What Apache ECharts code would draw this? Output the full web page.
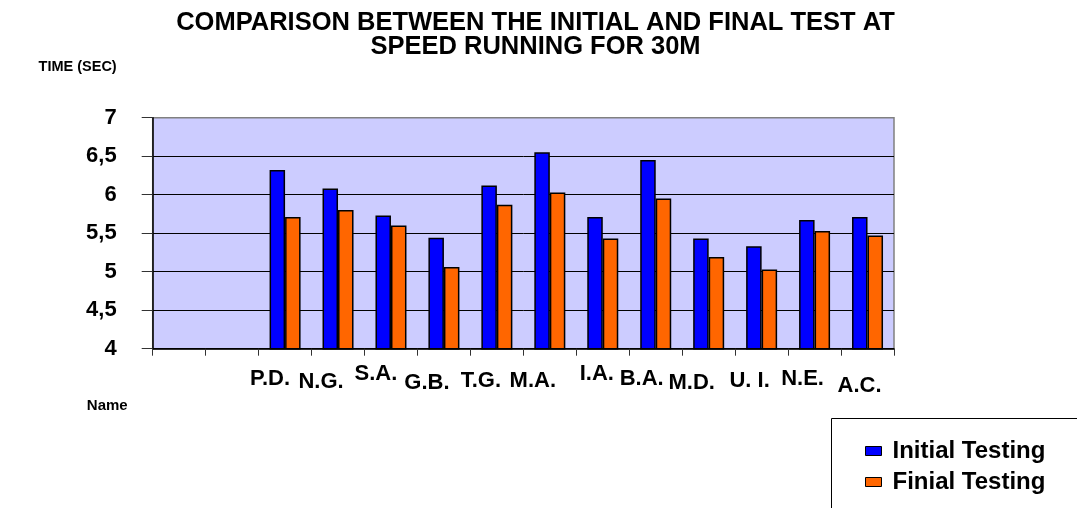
<!DOCTYPE html>
<html>
<head>
<meta charset="utf-8">
<script src="https://cdn.jsdelivr.net/npm/echarts@6/dist/echarts.min.js"></script>
<style>html,body{margin:0;padding:0;background:#fff;}#c{width:1077px;height:508px;}</style>
</head>
<body>
<div id="c"></div>
<script>
const categories = [' ', '  ', 'P.D.', 'N.G.', 'S.A.', 'G.B.', 'T.G.', 'M.A.', 'I.A.', 'B.A.', 'M.D.', 'U. I.', 'N.E.', 'A.C.'];
const initialTesting = [null, null, 6.32, 6.08, 5.73, 5.44, 6.12, 6.55, 5.71, 6.45, 5.43, 5.33, 5.67, 5.71];
const finialTesting = [null, null, 5.71, 5.80, 5.60, 5.06, 5.87, 6.03, 5.43, 5.95, 5.19, 5.03, 5.53, 5.47];
const yTicks = [4, 4.5, 5, 5.5, 6, 6.5, 7];

const FONT = "'Liberation Sans', Arial, sans-serif";
// per-label nudges (label placement quirks of the original)
const labelPad = {
  'P.D.': [0, 30, 0, 0], 'N.G.': [3, 34, 0, 0], 'S.A.': [-5, 30, 0, 0], 'G.B.': [4, 34, 0, 0],
  'T.G.': [2, 32, 0, 0], 'M.A.': [2, 34, 0, 0], 'I.A.': [-5, 12, 0, 0], 'B.A.': [0, 28, 0, 0],
  'M.D.': [4, 34, 0, 0], 'U. I.': [2, 24, 0, 0], 'N.E.': [0, 24, 0, 0], 'A.C.': [7, 16, 0, 0]
};
const xData = categories.map(c => ({ value: c, textStyle: { padding: labelPad[c] || 0 } }));

const chart = echarts.init(document.getElementById('c'));
chart.setOption({
  animation: false,
  backgroundColor: '#fff',
  textStyle: { fontFamily: FONT },
  title: {
    text: 'COMPARISON BETWEEN THE INITIAL AND FINAL TEST AT\nSPEED RUNNING FOR 30M',
    left: 535.5, top: 11, textAlign: 'center', padding: 0,
    textStyle: { fontFamily: FONT, fontWeight: 'bold', fontSize: 25.5, lineHeight: 24, color: '#000' }
  },
  graphic: [{
    type: 'rect', z: 0, silent: true,
    shape: { x: 831.5, y: 418.5, width: 300, height: 150 },
    style: { fill: '#fff', stroke: '#000', lineWidth: 1 }
  }],
  legend: {
    orient: 'vertical',
    left: 865, top: 438, padding: 0, z: 10,
    itemWidth: 16, itemHeight: 9, itemGap: 5,
    icon: 'rect',
    itemStyle: { borderColor: '#000', borderWidth: 1 },
    textStyle: { fontFamily: FONT, fontWeight: 'bold', fontSize: 24, lineHeight: 26, color: '#000', padding: [0, 0, 0, 6] },
    data: ['Initial Testing', 'Finial Testing']
  },
  grid: {
    left: 152.7, right: 183, top: 117.7, bottom: 159.3,
    show: true, backgroundColor: '#CCCCFF', borderColor: '#808080', borderWidth: 1.5
  },
  xAxis: {
    type: 'category',
    data: xData,
    name: 'Name',
    nameLocation: 'start',
    nameGap: 25,
    nameTextStyle: { fontFamily: FONT, fontWeight: 'bold', fontSize: 15, color: '#000', align: 'right', verticalAlign: 'top', padding: [50, 0, 0, 0] },
    axisLine: { lineStyle: { color: '#000', width: 1.5 } },
    axisTick: { show: true, length: 7, interval: 0, lineStyle: { color: '#333', width: 1 } },
    axisLabel: { interval: 0, margin: 19, fontFamily: FONT, fontWeight: 'bold', fontSize: 22, lineHeight: 22, color: '#000' },
    splitLine: { show: false }
  },
  yAxis: {
    type: 'value',
    min: 4, max: 7, interval: 0.5,
    name: 'TIME (SEC)',
    nameLocation: 'end',
    nameGap: 43,
    nameTextStyle: { fontFamily: FONT, fontWeight: 'bold', fontSize: 14.5, color: '#000', align: 'right', padding: [0, 36, 0, 0] },
    axisLine: { show: true, lineStyle: { color: '#000', width: 1.5 } },
    axisTick: { show: true, length: 11, lineStyle: { color: '#333', width: 1 } },
    axisLabel: {
      margin: 36, fontFamily: FONT, fontWeight: 'bold', fontSize: 22, color: '#000',
      formatter: v => String(v).replace('.', ',')
    },
    splitLine: { show: true, lineStyle: { color: ['#000', '#000', '#000', '#000', '#000', '#000', '#808080'], width: 1 } }
  },
  series: [
    {
      name: 'Initial Testing', type: 'bar', data: initialTesting,
      barWidth: 15.5, barGap: '0%',
      itemStyle: { color: '#0000FF', borderColor: '#000', borderWidth: 1.5 }
    },
    {
      name: 'Finial Testing', type: 'bar', data: finialTesting,
      barWidth: 15.5, barGap: '0%',
      itemStyle: { color: '#FF6600', borderColor: '#000', borderWidth: 1.5 }
    }
  ]
});
</script>
</body>
</html>
